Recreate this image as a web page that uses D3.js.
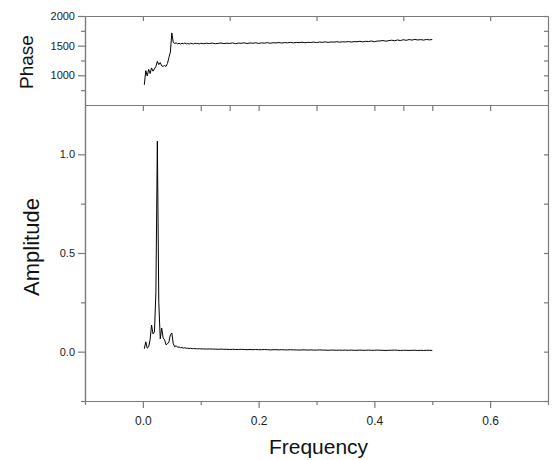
<!DOCTYPE html>
<html>
<head>
<meta charset="utf-8">
<script src="https://cdnjs.cloudflare.com/ajax/libs/d3/7.8.5/d3.min.js"></script>
<style>
  body { margin: 0; background: #fff; }
  svg { display: block; font-family: "Liberation Sans", Arial, sans-serif; }
  .axis path, .axis line { stroke: #7a7a7a; stroke-width: 1.2; }
  .axis text { fill: #1a1a1a; }
</style>
</head>
<body>
<div id="svg-container"></div>
<script>
const WIDTH = 553, HEIGHT = 460;
const LEFT = 85, RIGHT = 548, TOP = 16, DIVIDE = 105, BOTTOM = 401;

// Frequency grid of the spectrum (fine near the peak, coarse in the tail)
var frequency = [
  0.0025, 0.005, 0.0075, 0.01, 0.0125, 0.015, 0.0175, 0.02, 0.0225, 0.025,
  0.0275, 0.03, 0.0325, 0.035, 0.0375, 0.04, 0.0425, 0.045, 0.0475, 0.05,
  0.0525, 0.055, 0.0575, 0.06, 0.0625, 0.065, 0.0675, 0.07, 0.0725, 0.075,
  0.0775, 0.08, 0.0825, 0.085, 0.0875, 0.09, 0.0925, 0.095, 0.0975, 0.1,
  0.105, 0.11, 0.115, 0.12, 0.125, 0.13, 0.135, 0.14, 0.145, 0.15,
  0.155, 0.16, 0.165, 0.17, 0.175, 0.18, 0.185, 0.19, 0.195, 0.2,
  0.205, 0.21, 0.215, 0.22, 0.225, 0.23, 0.235, 0.24, 0.245, 0.25,
  0.255, 0.26, 0.265, 0.27, 0.275, 0.28, 0.285, 0.29, 0.295, 0.3,
  0.305, 0.31, 0.315, 0.32, 0.325, 0.33, 0.335, 0.34, 0.345, 0.35,
  0.355, 0.36, 0.365, 0.37, 0.375, 0.38, 0.385, 0.39, 0.395, 0.4,
  0.405, 0.41, 0.415, 0.42, 0.425, 0.43, 0.435, 0.44, 0.445, 0.45,
  0.455, 0.46, 0.465, 0.47, 0.475, 0.48, 0.485, 0.49, 0.495, 0.5
];

var phase = [
  840, 1080, 990, 1100, 1030, 1125, 1070, 1110, 1150, 1235,
  1180, 1215, 1160, 1150, 1165, 1150, 1200, 1300, 1390, 1715,
  1555, 1538, 1548, 1530, 1542, 1528, 1540, 1533, 1545, 1530,
  1538, 1527, 1541, 1535, 1529, 1543, 1534, 1538, 1530, 1540,
  1533, 1541, 1536, 1544, 1532, 1539, 1545, 1535, 1542, 1537,
  1546, 1534, 1543, 1540, 1548, 1536, 1545, 1541, 1549, 1538,
  1547, 1543, 1551, 1540, 1549, 1546, 1553, 1544, 1552, 1548,
  1556, 1547, 1554, 1551, 1559, 1549, 1557, 1553, 1561, 1552,
  1560, 1556, 1564, 1555, 1563, 1559, 1567, 1558, 1566, 1562,
  1570, 1561, 1569, 1566, 1574, 1564, 1573, 1570, 1578, 1568,
  1577, 1580, 1586, 1576, 1585, 1592, 1583, 1596, 1586, 1600,
  1590, 1603, 1594, 1605, 1596, 1602, 1594, 1604, 1598, 1603
];

var amplitude = [
  0.015, 0.05, 0.018, 0.025, 0.06, 0.135, 0.09, 0.10, 0.30, 1.067,
  0.25, 0.065, 0.12, 0.07, 0.06, 0.035, 0.04, 0.05, 0.085, 0.095,
  0.04, 0.025, 0.03, 0.022, 0.024, 0.02, 0.021, 0.018, 0.02, 0.017,
  0.018, 0.016, 0.017, 0.015, 0.016, 0.015, 0.015, 0.014, 0.015, 0.014,
  0.014, 0.013, 0.014, 0.013, 0.013, 0.012, 0.013, 0.012, 0.012, 0.011,
  0.012, 0.011, 0.011, 0.012, 0.011, 0.010, 0.011, 0.010, 0.011, 0.010,
  0.010, 0.011, 0.010, 0.009, 0.010, 0.010, 0.009, 0.010, 0.009, 0.009,
  0.010, 0.009, 0.009, 0.008, 0.009, 0.009, 0.008, 0.009, 0.008, 0.008,
  0.009, 0.008, 0.008, 0.007, 0.008, 0.008, 0.007, 0.008, 0.007, 0.008,
  0.007, 0.008, 0.007, 0.007, 0.008, 0.007, 0.007, 0.008, 0.007, 0.007,
  0.008, 0.007, 0.007, 0.006, 0.007, 0.007, 0.008, 0.007, 0.006, 0.007,
  0.007, 0.006, 0.007, 0.007, 0.006, 0.007, 0.006, 0.007, 0.007, 0.006
];

// Tick positions
var xTicks = [0, 0.2, 0.4, 0.6];
var xMinorTicks = [-0.1, 0.1, 0.3, 0.5, 0.7];
var xPhaseTicks = [0, 0.15, 0.3, 0.45, 0.6];
var xDividerTicks = [0, 0.1, 0.15, 0.2, 0.3, 0.4, 0.45, 0.5, 0.6];
var phaseTicks = [1000, 1500, 2000];
var phaseMinorTicks = [750, 1250, 1750];
var ampTicks = [0, 0.5, 1.0];
var ampMinorTicks = [-0.25, 0.25, 0.75];

var svg = d3.select("#svg-container")
  .append("svg")
  .attr("width", WIDTH)
  .attr("height", HEIGHT);

var x = d3.scaleLinear().domain([-0.1, 0.7]).range([LEFT, RIGHT]);
var yPhase = d3.scaleLinear().domain([500, 2000]).range([DIVIDE, TOP]);
var yAmp = d3.scaleLinear().domain([-0.25, 1.25]).range([BOTTOM, DIVIDE]);

function addAxis(axis, tx, ty, size) {
  return svg.append("g")
    .attr("class", "axis")
    .attr("transform", "translate(" + tx + "," + ty + ")")
    .style("font-size", size + "px")
    .call(axis);
}

// Bottom frequency axis
addAxis(d3.axisBottom(x).tickValues(xTicks).tickSize(7).tickSizeOuter(0)
  .tickPadding(8).tickFormat(d3.format(".1f")), 0, BOTTOM, 12);
addAxis(d3.axisBottom(x).tickValues(xMinorTicks).tickSize(4).tickSizeOuter(0)
  .tickFormat(""), 0, BOTTOM, 12);

// Shared divider with inward ticks, and top edge
addAxis(d3.axisBottom(x).tickValues(xDividerTicks).tickSize(6).tickSizeOuter(0)
  .tickFormat(""), 0, DIVIDE, 11);
addAxis(d3.axisTop(x).tickValues(xPhaseTicks).tickSize(-5).tickSizeOuter(0)
  .tickFormat(""), 0, TOP, 11);

// Phase axes
addAxis(d3.axisLeft(yPhase).tickValues(phaseTicks).tickSize(7).tickSizeOuter(0)
  .tickFormat(d3.format("d")), LEFT, 0, 11);
addAxis(d3.axisLeft(yPhase).tickValues(phaseMinorTicks).tickSize(4).tickSizeOuter(0)
  .tickFormat(""), LEFT, 0, 11);
addAxis(d3.axisRight(yPhase).tickValues(phaseTicks.concat(phaseMinorTicks)).tickSize(-4)
  .tickSizeOuter(0).tickFormat(""), RIGHT, 0, 11);

// Amplitude axes
addAxis(d3.axisLeft(yAmp).tickValues(ampTicks).tickSize(7).tickSizeOuter(0)
  .tickFormat(d3.format(".1f")), LEFT, 0, 11);
addAxis(d3.axisLeft(yAmp).tickValues(ampMinorTicks).tickSize(4).tickSizeOuter(0)
  .tickFormat(""), LEFT, 0, 11);
addAxis(d3.axisRight(yAmp).tickValues(ampTicks.concat(ampMinorTicks)).tickSize(-4)
  .tickSizeOuter(0).tickFormat(""), RIGHT, 0, 11);

// Data lines
var phaseLine = d3.line()
  .x(function(d, i) { return x(frequency[i]); })
  .y(function(d) { return yPhase(d); });

var ampLine = d3.line()
  .x(function(d, i) { return x(frequency[i]); })
  .y(function(d) { return yAmp(d); });

svg.append("path")
  .attr("fill", "none")
  .attr("stroke", "#000")
  .attr("stroke-width", 1)
  .attr("stroke-linejoin", "round")
  .attr("d", phaseLine(phase));

svg.append("path")
  .attr("fill", "none")
  .attr("stroke", "#000")
  .attr("stroke-width", 1)
  .attr("stroke-linejoin", "round")
  .attr("d", ampLine(amplitude));

// Axis titles
svg.append("text")
  .attr("x", (LEFT + RIGHT) / 2 + 2)
  .attr("y", 454)
  .attr("text-anchor", "middle")
  .attr("font-size", "21px")
  .attr("fill", "#111")
  .text("Frequency");

svg.append("text")
  .attr("transform", "translate(33," + 62 + ") rotate(-90)")
  .attr("text-anchor", "middle")
  .attr("font-size", "19px")
  .attr("fill", "#111")
  .text("Phase");

svg.append("text")
  .attr("transform", "translate(39," + 247 + ") rotate(-90)")
  .attr("text-anchor", "middle")
  .attr("font-size", "22px")
  .attr("fill", "#111")
  .text("Amplitude");
</script>
</body>
</html>
